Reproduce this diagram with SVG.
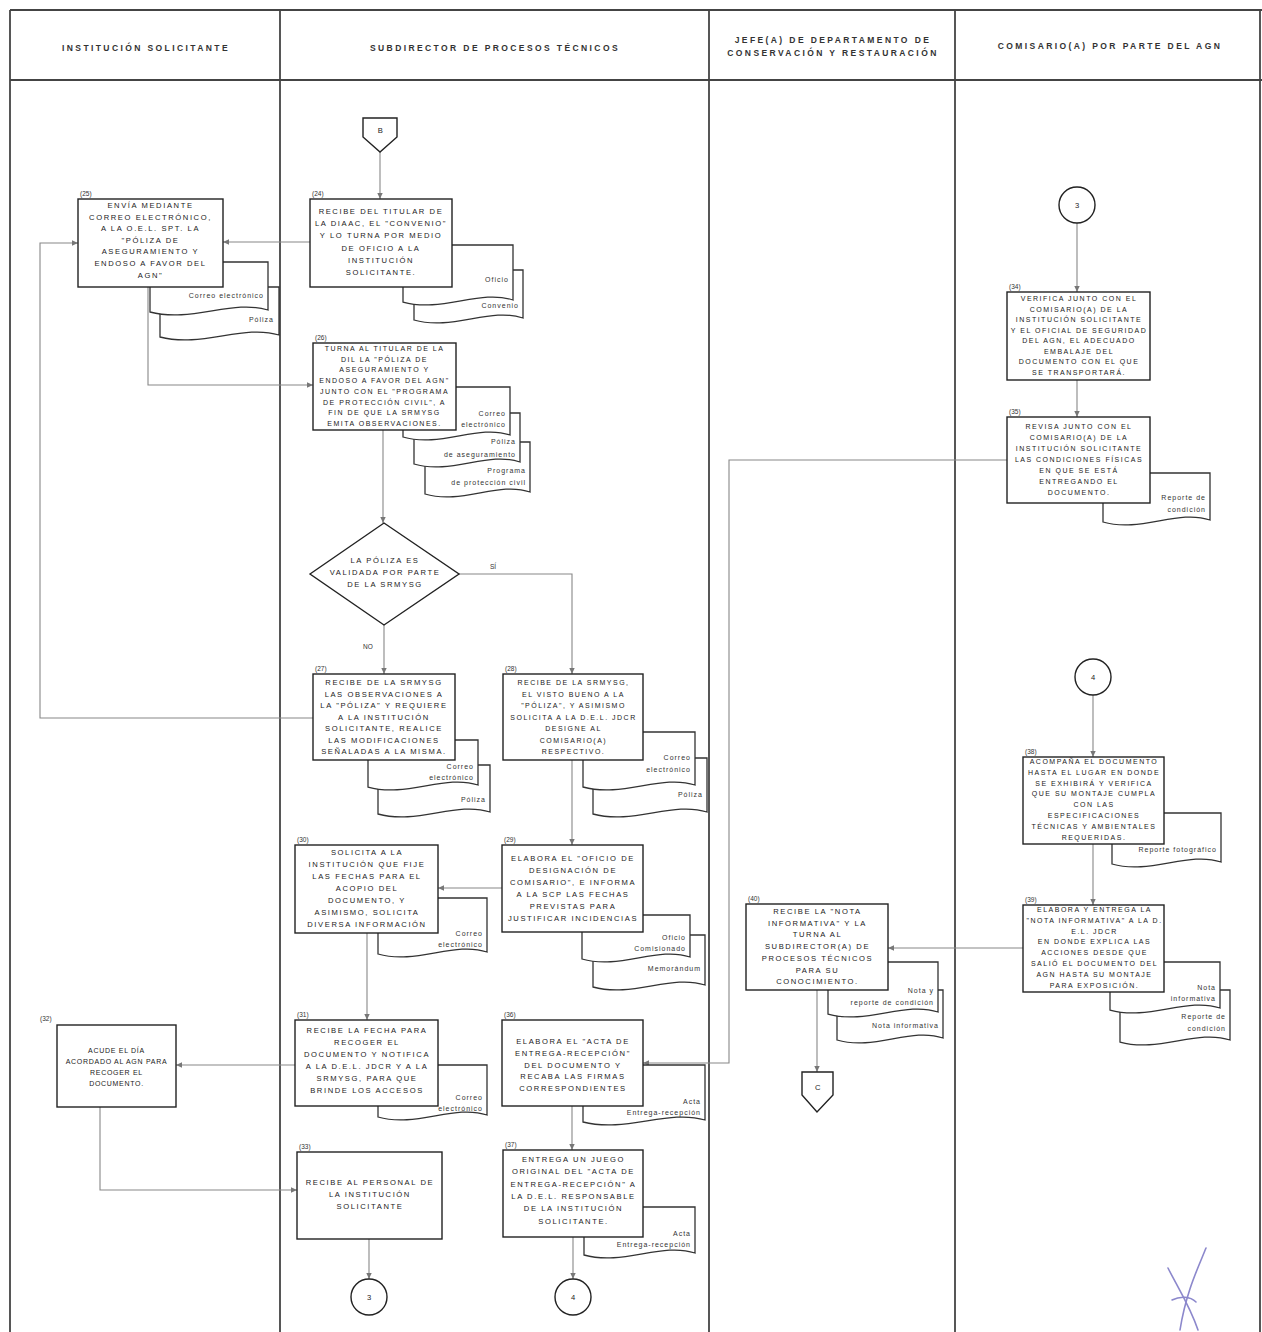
<svg xmlns="http://www.w3.org/2000/svg" width="1262" height="1332" viewBox="0 0 1262 1332">
<defs>
<marker id="ar" viewBox="0 0 10 10" refX="9" refY="5" markerWidth="7" markerHeight="7" orient="auto" markerUnits="userSpaceOnUse">
<path d="M0,1 L9,5 L0,9 Z" fill="#777"/>
</marker>
<style>
.lane{stroke:#444;stroke-width:1.8;fill:none}
.hdr{font-family:"Liberation Sans",Arial,sans-serif;font-size:8.5px;font-weight:bold;fill:#333;text-anchor:middle;letter-spacing:2.4px}
.box{fill:#fff;stroke:#222;stroke-width:1.4}
.doc{fill:#fff;stroke:#333;stroke-width:1.3}
.t{font-family:"Liberation Sans",Arial,sans-serif;font-size:7.6px;fill:#1a1a1a;text-anchor:middle;letter-spacing:1.6px}
.s{font-size:7px;letter-spacing:1.5px}
.n{letter-spacing:0.7px}
.lb{font-family:"Liberation Sans",Arial,sans-serif;font-size:7px;fill:#333;text-anchor:end;letter-spacing:1px}
.num{font-family:"Liberation Sans",Arial,sans-serif;font-size:6.5px;fill:#333}
.c{fill:none;stroke:#888;stroke-width:1.1}
.sig{fill:none;stroke:#8c88cc;stroke-width:1.6;stroke-linecap:round}
</style>
</defs>
<rect width="1262" height="1332" fill="#fff"/>
<g id="lanes">
<line class="lane" x1="10" y1="10" x2="1262" y2="10"/>
<line class="lane" x1="10" y1="80" x2="1262" y2="80"/>
<line class="lane" x1="10" y1="10" x2="10" y2="1332"/>
<line class="lane" x1="280" y1="10" x2="280" y2="1332"/>
<line class="lane" x1="709" y1="10" x2="709" y2="1332"/>
<line class="lane" x1="955" y1="10" x2="955" y2="1332"/>
<line class="lane" x1="1260" y1="10" x2="1260" y2="1332"/>
<text class="hdr" x="146" y="51">INSTITUCIÓN SOLICITANTE</text>
<text class="hdr" x="495" y="51">SUBDIRECTOR DE PROCESOS TÉCNICOS</text>
<text class="hdr" x="833" y="43">JEFE(A) DE DEPARTAMENTO DE</text>
<text class="hdr" x="833" y="56">CONSERVACIÓN Y RESTAURACIÓN</text>
<text class="hdr" x="1110" y="49">COMISARIO(A) POR PARTE DEL AGN</text>
</g>
<g id="connectors">
<path class="c" d="M380,152 V199" marker-end="url(#ar)"/>
<path class="c" d="M310,242 H223" marker-end="url(#ar)"/>
<path class="c" d="M313,718 H40 V243 H78" marker-end="url(#ar)"/>
<path class="c" d="M148,287 V385 H313" marker-end="url(#ar)"/>
<path class="c" d="M383,430 V523" marker-end="url(#ar)"/>
<path class="c" d="M384,625 V674" marker-end="url(#ar)"/>
<path class="c" d="M459,574 H572 V674" marker-end="url(#ar)"/>
<path class="c" d="M572,760 V845" marker-end="url(#ar)"/>
<path class="c" d="M502,888 H438" marker-end="url(#ar)"/>
<path class="c" d="M367,933 V1020" marker-end="url(#ar)"/>
<path class="c" d="M295,1065 H176" marker-end="url(#ar)"/>
<path class="c" d="M100,1107 V1190 H297" marker-end="url(#ar)"/>
<path class="c" d="M369,1239 V1279" marker-end="url(#ar)"/>
<path class="c" d="M1007,460 H729 V1063 H643" marker-end="url(#ar)"/>
<path class="c" d="M572,1106 V1150" marker-end="url(#ar)"/>
<path class="c" d="M573,1237 V1279" marker-end="url(#ar)"/>
<path class="c" d="M1077,223 V292" marker-end="url(#ar)"/>
<path class="c" d="M1077,380 V417" marker-end="url(#ar)"/>
<path class="c" d="M1093,695 V757" marker-end="url(#ar)"/>
<path class="c" d="M1093,844 V905" marker-end="url(#ar)"/>
<path class="c" d="M1023,948 H888" marker-end="url(#ar)"/>
<path class="c" d="M817,990 V1072" marker-end="url(#ar)"/>
<text class="num" x="490" y="569">SÍ</text>
<text class="num" x="363" y="649">NO</text>
</g>
<g id="offpage-B">
<polygon class="box" points="363,118 397,118 397,137 380,152 363,137"/>
<text class="t" x="381" y="133">B</text>
</g>
<g id="node-24">
<path class="doc" d="M414,270 H523 V318 C490.3,307 452.2,331 414,320 Z"/>
<path class="doc" d="M403,245 H513 V300 C480,289 441.5,313 403,302 Z"/>
<rect class="box" x="310" y="199" width="142" height="88"/>
<text class="num" x="312" y="196">(24)</text>
<text class="lb" x="509" y="282">Oficio</text>
<text class="lb" x="519" y="308">Convenio</text>
<text class="t" x="381" y="214"><tspan x="381">RECIBE DEL TITULAR DE</tspan><tspan x="381" dy="12.2">LA DIAAC, EL "CONVENIO"</tspan><tspan x="381" dy="12.2">Y LO TURNA POR MEDIO</tspan><tspan x="381" dy="12.2">DE OFICIO A LA</tspan><tspan x="381" dy="12.2">INSTITUCIÓN</tspan><tspan x="381" dy="12.2">SOLICITANTE.</tspan></text>
</g>
<g id="node-25">
<path class="doc" d="M160,287 H279 V335 C243.3,324 201.7,348 160,337 Z"/>
<path class="doc" d="M150,262 H268 V310 C232.6,299 191.3,323 150,312 Z"/>
<rect class="box" x="78" y="199" width="145" height="88"/>
<text class="num" x="80" y="196">(25)</text>
<text class="lb" x="264" y="298">Correo electrónico</text>
<text class="lb" x="274" y="322">Póliza</text>
<text class="t" x="150.5" y="208"><tspan x="150.5">ENVÍA MEDIANTE</tspan><tspan x="150.5" dy="11.6">CORREO ELECTRÓNICO,</tspan><tspan x="150.5" dy="11.6">A LA O.E.L. SPT. LA</tspan><tspan x="150.5" dy="11.6">"PÓLIZA DE</tspan><tspan x="150.5" dy="11.6">ASEGURAMIENTO Y</tspan><tspan x="150.5" dy="11.6">ENDOSO A FAVOR DEL</tspan><tspan x="150.5" dy="11.6">AGN"</tspan></text>
</g>
<g id="node-26">
<path class="doc" d="M425,442 H530 V492 C498.5,481 461.8,505 425,494 Z"/>
<path class="doc" d="M414,413 H520 V462 C488.2,451 451.1,475 414,464 Z"/>
<path class="doc" d="M403,387 H510 V435 C477.9,424 440.5,448 403,437 Z"/>
<rect class="box" x="313" y="343" width="143" height="87"/>
<text class="num" x="315" y="340">(26)</text>
<text class="lb" x="506" y="416">Correo</text>
<text class="lb" x="506" y="427">electrónico</text>
<text class="lb" x="516" y="444">Póliza</text>
<text class="lb" x="516" y="457">de aseguramiento</text>
<text class="lb" x="526" y="473">Programa</text>
<text class="lb" x="526" y="485">de protección civil</text>
<text class="t s" x="384.5" y="351"><tspan x="384.5">TURNA AL TITULAR DE LA</tspan><tspan x="384.5" dy="10.7">DIL LA "PÓLIZA DE</tspan><tspan x="384.5" dy="10.7">ASEGURAMIENTO Y</tspan><tspan x="384.5" dy="10.7">ENDOSO A FAVOR DEL AGN"</tspan><tspan x="384.5" dy="10.7">JUNTO CON EL "PROGRAMA</tspan><tspan x="384.5" dy="10.7">DE PROTECCIÓN CIVIL", A</tspan><tspan x="384.5" dy="10.7">FIN DE QUE LA SRMYSG</tspan><tspan x="384.5" dy="10.7">EMITA OBSERVACIONES.</tspan></text>
</g>
<g id="decision">
<polygon class="box" points="310,574 384,523 459,574 384,625"/>
<text class="t" x="385" y="563"><tspan x="385">LA PÓLIZA ES</tspan><tspan x="385" dy="12">VALIDADA POR PARTE</tspan><tspan x="385" dy="12">DE LA SRMYSG</tspan></text>
</g>
<g id="node-27">
<path class="doc" d="M378,765 H490 V812 C456.4,801 417.2,825 378,814 Z"/>
<path class="doc" d="M368,740 H478 V785 C445,774 406.5,798 368,787 Z"/>
<rect class="box" x="313" y="674" width="142" height="86"/>
<text class="num" x="315" y="671">(27)</text>
<text class="lb" x="474" y="769">Correo</text>
<text class="lb" x="474" y="780">electrónico</text>
<text class="lb" x="486" y="802">Póliza</text>
<text class="t" x="384" y="685"><tspan x="384">RECIBE DE LA SRMYSG</tspan><tspan x="384" dy="11.5">LAS OBSERVACIONES A</tspan><tspan x="384" dy="11.5">LA "PÓLIZA" Y REQUIERE</tspan><tspan x="384" dy="11.5">A LA INSTITUCIÓN</tspan><tspan x="384" dy="11.5">SOLICITANTE, REALICE</tspan><tspan x="384" dy="11.5">LAS MODIFICACIONES</tspan><tspan x="384" dy="11.5">SEÑALADAS A LA MISMA.</tspan></text>
</g>
<g id="node-28">
<path class="doc" d="M593,758 H707 V812 C672.8,801 632.9,825 593,814 Z"/>
<path class="doc" d="M583,732 H695 V785 C661.4,774 622.2,798 583,787 Z"/>
<rect class="box" x="503" y="674" width="140" height="86"/>
<text class="num" x="505" y="671">(28)</text>
<text class="lb" x="691" y="760">Correo</text>
<text class="lb" x="691" y="772">electrónico</text>
<text class="lb" x="703" y="797">Póliza</text>
<text class="t s" x="573.5" y="685"><tspan x="573.5">RECIBE DE LA SRMYSG,</tspan><tspan x="573.5" dy="11.5">EL VISTO BUENO A LA</tspan><tspan x="573.5" dy="11.5">"PÓLIZA", Y ASIMISMO</tspan><tspan x="573.5" dy="11.5">SOLICITA A LA D.E.L. JDCR</tspan><tspan x="573.5" dy="11.5">DESIGNE AL</tspan><tspan x="573.5" dy="11.5">COMISARIO(A)</tspan><tspan x="573.5" dy="11.5">RESPECTIVO.</tspan></text>
</g>
<g id="node-29">
<path class="doc" d="M593,935 H705 V985 C671.4,974 632.2,998 593,987 Z"/>
<path class="doc" d="M582,915 H690 V957 C657.6,946 619.8,970 582,959 Z"/>
<rect class="box" x="502" y="845" width="141" height="87"/>
<text class="num" x="504" y="842">(29)</text>
<text class="lb" x="686" y="940">Oficio</text>
<text class="lb" x="686" y="951">Comisionado</text>
<text class="lb" x="701" y="971">Memorándum</text>
<text class="t" x="573" y="861"><tspan x="573">ELABORA EL "OFICIO DE</tspan><tspan x="573" dy="12">DESIGNACIÓN DE</tspan><tspan x="573" dy="12">COMISARIO", E INFORMA</tspan><tspan x="573" dy="12">A LA SCP LAS FECHAS</tspan><tspan x="573" dy="12">PREVISTAS PARA</tspan><tspan x="573" dy="12">JUSTIFICAR INCIDENCIAS</tspan></text>
</g>
<g id="node-30">
<path class="doc" d="M378,898 H487 V952 C454.3,941 416.2,965 378,954 Z"/>
<rect class="box" x="295" y="845" width="143" height="88"/>
<text class="num" x="297" y="842">(30)</text>
<text class="lb" x="483" y="936">Correo</text>
<text class="lb" x="483" y="947">electrónico</text>
<text class="t" x="367" y="855"><tspan x="367">SOLICITA A LA</tspan><tspan x="367" dy="12">INSTITUCIÓN QUE FIJE</tspan><tspan x="367" dy="12">LAS FECHAS PARA EL</tspan><tspan x="367" dy="12">ACOPIO DEL</tspan><tspan x="367" dy="12">DOCUMENTO, Y</tspan><tspan x="367" dy="12">ASIMISMO, SOLICITA</tspan><tspan x="367" dy="12">DIVERSA INFORMACIÓN</tspan></text>
</g>
<g id="node-31">
<path class="doc" d="M378,1065 H487 V1115 C454.3,1104 416.2,1128 378,1117 Z"/>
<rect class="box" x="295" y="1020" width="143" height="86"/>
<text class="num" x="297" y="1017">(31)</text>
<text class="lb" x="483" y="1100">Correo</text>
<text class="lb" x="483" y="1111">electrónico</text>
<text class="t" x="367" y="1033"><tspan x="367">RECIBE LA FECHA PARA</tspan><tspan x="367" dy="12">RECOGER EL</tspan><tspan x="367" dy="12">DOCUMENTO Y NOTIFICA</tspan><tspan x="367" dy="12">A LA D.E.L. JDCR Y A LA</tspan><tspan x="367" dy="12">SRMYSG, PARA QUE</tspan><tspan x="367" dy="12">BRINDE LOS ACCESOS</tspan></text>
</g>
<g id="node-32">
<rect class="box" x="57" y="1025" width="119" height="82"/>
<text class="num" x="40" y="1021">(32)</text>
<text class="t s n" x="116.5" y="1053"><tspan x="116.5">ACUDE EL DÍA</tspan><tspan x="116.5" dy="11">ACORDADO AL AGN PARA</tspan><tspan x="116.5" dy="11">RECOGER EL</tspan><tspan x="116.5" dy="11">DOCUMENTO.</tspan></text>
</g>
<g id="node-33">
<rect class="box" x="297" y="1152" width="145" height="87"/>
<text class="num" x="299" y="1149">(33)</text>
<text class="t" x="370" y="1185"><tspan x="370">RECIBE AL PERSONAL DE</tspan><tspan x="370" dy="12">LA INSTITUCIÓN</tspan><tspan x="370" dy="12">SOLICITANTE</tspan></text>
</g>
<g id="connector-3a">
<circle class="box" cx="369" cy="1297" r="18"/>
<text class="t" x="370" y="1300">3</text>
</g>
<g id="node-36">
<path class="doc" d="M583,1065 H705 V1120 C668.4,1109 625.7,1133 583,1122 Z"/>
<rect class="box" x="502" y="1020" width="141" height="86"/>
<text class="num" x="504" y="1017">(36)</text>
<text class="lb" x="701" y="1104">Acta</text>
<text class="lb" x="701" y="1115">Entrega-recepción</text>
<text class="t" x="573" y="1044"><tspan x="573">ELABORA EL "ACTA DE</tspan><tspan x="573" dy="11.8">ENTREGA-RECEPCIÓN"</tspan><tspan x="573" dy="11.8">DEL DOCUMENTO Y</tspan><tspan x="573" dy="11.8">RECABA LAS FIRMAS</tspan><tspan x="573" dy="11.8">CORRESPONDIENTES</tspan></text>
</g>
<g id="node-37">
<path class="doc" d="M584,1207 H695 V1253 C661.7,1242 622.9,1266 584,1255 Z"/>
<rect class="box" x="503" y="1150" width="140" height="87"/>
<text class="num" x="505" y="1147">(37)</text>
<text class="lb" x="691" y="1236">Acta</text>
<text class="lb" x="691" y="1247">Entrega-recepción</text>
<text class="t" x="573.5" y="1162"><tspan x="573.5">ENTREGA UN JUEGO</tspan><tspan x="573.5" dy="12.3">ORIGINAL DEL "ACTA DE</tspan><tspan x="573.5" dy="12.3">ENTREGA-RECEPCIÓN" A</tspan><tspan x="573.5" dy="12.3">LA D.E.L. RESPONSABLE</tspan><tspan x="573.5" dy="12.3">DE LA INSTITUCIÓN</tspan><tspan x="573.5" dy="12.3">SOLICITANTE.</tspan></text>
</g>
<g id="connector-4a">
<circle class="box" cx="573" cy="1297" r="18"/>
<text class="t" x="574" y="1300">4</text>
</g>
<g id="connector-3b">
<circle class="box" cx="1077" cy="205" r="18"/>
<text class="t" x="1078" y="208">3</text>
</g>
<g id="node-34">
<rect class="box" x="1007" y="292" width="143" height="88"/>
<text class="num" x="1009" y="289">(34)</text>
<text class="t s" x="1079" y="301"><tspan x="1079">VERIFICA JUNTO CON EL</tspan><tspan x="1079" dy="10.5">COMISARIO(A) DE LA</tspan><tspan x="1079" dy="10.5">INSTITUCIÓN SOLICITANTE</tspan><tspan x="1079" dy="10.5">Y EL OFICIAL DE SEGURIDAD</tspan><tspan x="1079" dy="10.5">DEL AGN, EL ADECUADO</tspan><tspan x="1079" dy="10.5">EMBALAJE DEL</tspan><tspan x="1079" dy="10.5">DOCUMENTO CON EL QUE</tspan><tspan x="1079" dy="10.5">SE TRANSPORTARÁ.</tspan></text>
</g>
<g id="node-35">
<path class="doc" d="M1103,473 H1210 V520 C1177.9,509 1140.5,533 1103,522 Z"/>
<rect class="box" x="1007" y="417" width="143" height="86"/>
<text class="num" x="1009" y="414">(35)</text>
<text class="lb" x="1206" y="500">Reporte de</text>
<text class="lb" x="1206" y="512">condición</text>
<text class="t s" x="1079" y="429"><tspan x="1079">REVISA JUNTO CON EL</tspan><tspan x="1079" dy="11">COMISARIO(A) DE LA</tspan><tspan x="1079" dy="11">INSTITUCIÓN SOLICITANTE</tspan><tspan x="1079" dy="11">LAS CONDICIONES FÍSICAS</tspan><tspan x="1079" dy="11">EN QUE SE ESTÁ</tspan><tspan x="1079" dy="11">ENTREGANDO EL</tspan><tspan x="1079" dy="11">DOCUMENTO.</tspan></text>
</g>
<g id="connector-4b">
<circle class="box" cx="1093" cy="677" r="18"/>
<text class="t" x="1094" y="680">4</text>
</g>
<g id="node-38">
<path class="doc" d="M1112,813 H1221 V862 C1188.3,851 1150.2,875 1112,864 Z"/>
<rect class="box" x="1023" y="757" width="141" height="87"/>
<text class="num" x="1025" y="754">(38)</text>
<text class="lb" x="1217" y="852">Reporte fotográfico</text>
<text class="t s" x="1094" y="764"><tspan x="1094">ACOMPAÑA EL DOCUMENTO</tspan><tspan x="1094" dy="10.8">HASTA EL LUGAR EN DONDE</tspan><tspan x="1094" dy="10.8">SE EXHIBIRÁ Y VERIFICA</tspan><tspan x="1094" dy="10.8">QUE SU MONTAJE CUMPLA</tspan><tspan x="1094" dy="10.8">CON LAS</tspan><tspan x="1094" dy="10.8">ESPECIFICACIONES</tspan><tspan x="1094" dy="10.8">TÉCNICAS Y AMBIENTALES</tspan><tspan x="1094" dy="10.8">REQUERIDAS.</tspan></text>
</g>
<g id="node-39">
<path class="doc" d="M1120,990 H1230 V1040 C1197,1029 1158.5,1053 1120,1042 Z"/>
<path class="doc" d="M1110,962 H1220 V1008 C1187,997 1148.5,1021 1110,1010 Z"/>
<rect class="box" x="1023" y="905" width="141" height="87"/>
<text class="num" x="1025" y="902">(39)</text>
<text class="lb" x="1216" y="990">Nota</text>
<text class="lb" x="1216" y="1001">informativa</text>
<text class="lb" x="1226" y="1019">Reporte de</text>
<text class="lb" x="1226" y="1031">condición</text>
<text class="t s" x="1094.5" y="912"><tspan x="1094.5">ELABORA Y ENTREGA LA</tspan><tspan x="1094.5" dy="10.8">"NOTA INFORMATIVA" A LA D.</tspan><tspan x="1094.5" dy="10.8">E.L. JDCR</tspan><tspan x="1094.5" dy="10.8">EN DONDE EXPLICA LAS</tspan><tspan x="1094.5" dy="10.8">ACCIONES DESDE QUE</tspan><tspan x="1094.5" dy="10.8">SALIÓ EL DOCUMENTO DEL</tspan><tspan x="1094.5" dy="10.8">AGN HASTA SU MONTAJE</tspan><tspan x="1094.5" dy="10.8">PARA EXPOSICIÓN.</tspan></text>
</g>
<g id="node-40">
<path class="doc" d="M837,990 H943 V1038 C911.2,1027 874.1,1051 837,1040 Z"/>
<path class="doc" d="M828,962 H938 V1012 C905,1001 866.5,1025 828,1014 Z"/>
<rect class="box" x="746" y="904" width="142" height="86"/>
<text class="num" x="748" y="901">(40)</text>
<text class="lb" x="934" y="993">Nota y</text>
<text class="lb" x="934" y="1005">reporte de condición</text>
<text class="lb" x="939" y="1028">Nota informativa</text>
<text class="t" x="817.5" y="914"><tspan x="817.5">RECIBE LA "NOTA</tspan><tspan x="817.5" dy="11.7">INFORMATIVA" Y LA</tspan><tspan x="817.5" dy="11.7">TURNA AL</tspan><tspan x="817.5" dy="11.7">SUBDIRECTOR(A) DE</tspan><tspan x="817.5" dy="11.7">PROCESOS TÉCNICOS</tspan><tspan x="817.5" dy="11.7">PARA SU</tspan><tspan x="817.5" dy="11.7">CONOCIMIENTO.</tspan></text>
</g>
<g id="offpage-C">
<polygon class="box" points="802,1072 833,1072 833,1095 817,1112 802,1095"/>
<text class="t" x="818.5" y="1090">C</text>
</g>
<g id="signature">
<path class="sig" d="M1206,1248 C1198,1268 1186,1292 1180,1330"/>
<path class="sig" d="M1168,1268 C1178,1288 1190,1306 1198,1330"/>
<path class="sig" d="M1172,1300 C1180,1296 1190,1296 1196,1302"/>
</g>
</svg>
